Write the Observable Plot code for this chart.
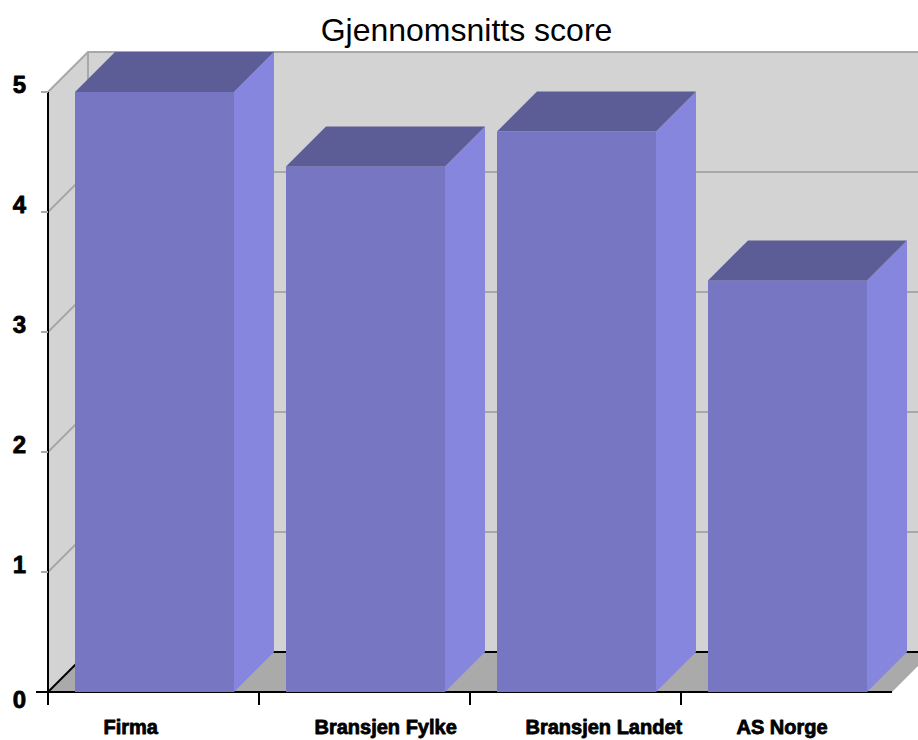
<!DOCTYPE html>
<html>
<head>
<meta charset="utf-8">
<script src="https://cdn.jsdelivr.net/npm/d3@7"></script>
<script src="https://cdn.jsdelivr.net/npm/@observablehq/plot@0.6"></script>
<style>
  html, body { margin: 0; padding: 0; background: #ffffff; }
  svg { display: block; }
</style>
</head>
<body>
<div id="chart"></div>
<script>
// Average score per group
const categories = ["Firma", "Bransjen Fylke", "Bransjen Landet", "AS Norge"];
const scores = [5.0, 4.38, 4.67, 3.43];
const yTicks = [0, 1, 2, 3, 4, 5];
const title = "Gjennomsnitts score";

const bars = categories.map((name, i) => ({name, score: scores[i]}));

// 3D box styling: depth offset of the room and bars, and front-face insets in each band
const DEPTH = 40;
const INSET_L = 27;
const INSET_R = 25;
const colors = {
  wall: "#d3d3d3",
  floor: "#aaaaaa",
  grid: "#a8a8a8",
  front: "#7676c2",
  side: "#8686de",
  top: "#5c5c96"
};

const bandwidthOf = (x) => typeof x.bandwidth === "function" ? x.bandwidth() : (x.bandwidth || 0);
const pts = (arr) => arr.map((p) => p.join(",")).join(" ");

// Back wall, left wall, grid lines and floor of the 3D chart box
function room(index, scales) {
  const x = scales.x, y = scales.y;
  const bw = bandwidthOf(x);
  const x0 = x(categories[0]);
  const x1 = x(categories[categories.length - 1]) + bw;
  const yTop = y(d3.max(yTicks));
  const yBase = y(0);
  const D = DEPTH;
  const g = d3.create("svg:g");

  // back wall
  g.append("polygon")
    .attr("points", pts([[x0 + D, yTop - D], [x1 + D, yTop - D], [x1 + D, yBase - D], [x0 + D, yBase - D]]))
    .attr("fill", colors.wall);
  // left wall
  g.append("polygon")
    .attr("points", pts([[x0, yTop], [x0 + D, yTop - D], [x0 + D, yBase - D], [x0, yBase]]))
    .attr("fill", colors.wall);
  // back wall left edge
  g.append("line")
    .attr("x1", x0 + D).attr("x2", x0 + D)
    .attr("y1", yTop - D).attr("y2", yBase - D)
    .attr("stroke", colors.grid).attr("stroke-width", 2);
  // gridlines wrapping the left and back walls
  for (const v of yTicks.filter((v) => v > 0)) {
    g.append("polyline")
      .attr("points", pts([[x0, y(v)], [x0 + D, y(v) - D], [x1 + D, y(v) - D]]))
      .attr("fill", "none")
      .attr("stroke", colors.grid)
      .attr("stroke-width", 2);
  }
  // floor
  g.append("polygon")
    .attr("points", pts([[x0, yBase], [x0 + D, yBase - D], [x1 + D, yBase - D], [x1, yBase]]))
    .attr("fill", colors.floor);
  g.append("polyline")
    .attr("points", pts([[x1 + D, yBase - D], [x0 + D, yBase - D], [x0, yBase], [x1, yBase]]))
    .attr("fill", "none")
    .attr("stroke", "#000")
    .attr("stroke-width", 2);
  return g.node();
}

// Side and top faces of each bar
function barFaces(index, scales) {
  const x = scales.x, y = scales.y;
  const bw = bandwidthOf(x);
  const D = DEPTH;
  const g = d3.create("svg:g");
  for (const b of bars) {
    const xs = x(b.name) + INSET_L;
    const xe = x(b.name) + bw - INSET_R;
    const yt = y(b.score);
    const yb = y(0);
    g.append("polygon")
      .attr("points", pts([[xe, yt], [xe + D, yt - D], [xe + D, yb - D], [xe, yb]]))
      .attr("fill", colors.side);
    g.append("polygon")
      .attr("points", pts([[xs, yt], [xs + D, yt - D], [xe + D, yt - D], [xe, yt]]))
      .attr("fill", colors.top);
  }
  return g.node();
}

// Axis lines and tick marks
function axes(index, scales) {
  const x = scales.x, y = scales.y;
  const x0 = x(categories[0]);
  const yTop = y(d3.max(yTicks));
  const yBase = y(0);
  const g = d3.create("svg:g");
  g.append("line")
    .attr("x1", x0).attr("x2", x0)
    .attr("y1", yTop).attr("y2", yBase + 13)
    .attr("stroke", "#000").attr("stroke-width", 2);
  for (const v of yTicks) {
    g.append("line")
      .attr("x1", v === 0 ? x0 - 12 : x0 - 7).attr("x2", x0)
      .attr("y1", y(v)).attr("y2", y(v))
      .attr("stroke", v === 0 ? "#000" : colors.grid)
      .attr("stroke-width", 2);
  }
  for (const c of categories.slice(1)) {
    g.append("line")
      .attr("x1", x(c)).attr("x2", x(c))
      .attr("y1", yBase).attr("y2", yBase + 13)
      .attr("stroke", "#000").attr("stroke-width", 2);
  }
  return g.node();
}

const labelStyle = {
  fontWeight: "bold",
  fill: "#000",
  stroke: "#000",
  strokeWidth: 0.8
};

const chart = Plot.plot({
  width: 918,
  height: 740,
  marginTop: 92,
  marginBottom: 48,
  marginLeft: 48,
  marginRight: 26,
  style: {
    fontFamily: "'Liberation Sans', Arial, sans-serif",
    background: "#ffffff",
    color: "#000000",
    overflow: "visible"
  },
  x: {domain: categories, padding: 0, axis: null},
  y: {domain: [0, 5], axis: null},
  marks: [
    room,
    Plot.barY(bars, {
      x: "name",
      y: "score",
      fill: colors.front,
      insetLeft: INSET_L,
      insetRight: INSET_R
    }),
    barFaces,
    axes,
    Plot.text(yTicks.filter((v) => v > 0), {
      y: (d) => d,
      text: (d) => String(d),
      frameAnchor: "left",
      dx: -29,
      dy: -7,
      textAnchor: "middle",
      fontSize: 24,
      ...labelStyle
    }),
    Plot.text(yTicks.filter((v) => v === 0), {
      y: (d) => d,
      text: (d) => String(d),
      frameAnchor: "left",
      dx: -29,
      dy: 8,
      textAnchor: "middle",
      fontSize: 24,
      ...labelStyle
    }),
    Plot.text(bars, {
      x: "name",
      text: "name",
      frameAnchor: "bottom",
      dy: 41,
      dx: -50.5,
      textAnchor: "start",
      fontSize: 20,
      ...labelStyle
    }),
    Plot.text([title], {
      text: (d) => d,
      frameAnchor: "top",
      dy: -74,
      dx: -4,
      fontSize: 32,
      fill: "#000"
    })
  ]
});

document.getElementById("chart").appendChild(chart);
</script>
</body>
</html>
